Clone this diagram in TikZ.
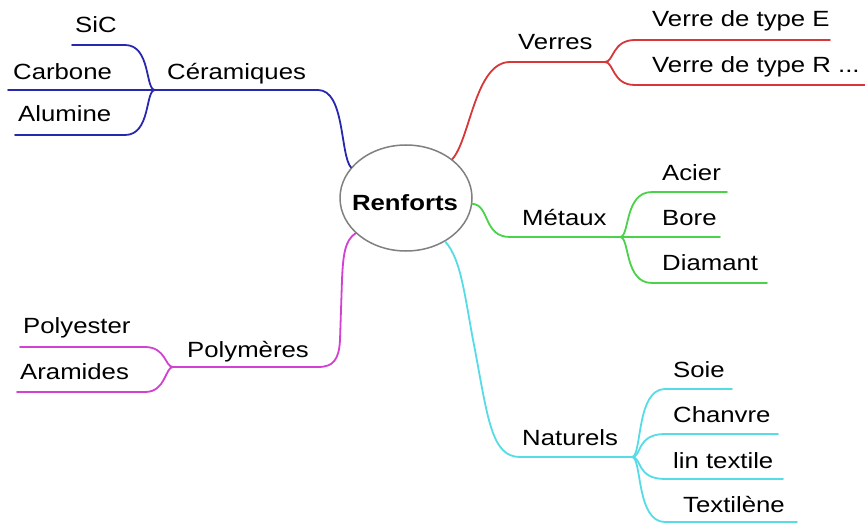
\documentclass[tikz,border=0pt]{standalone}
\usepackage{fontspec}
\setmainfont[FakeStretch=1.17]{Liberation Sans}
\usetikzlibrary{shapes.geometric}
\definecolor{cblue}{RGB}{40,40,175}
\definecolor{cred}{RGB}{215,55,55}
\definecolor{cgreen}{RGB}{75,210,75}
\definecolor{cmag}{RGB}{210,65,210}
\definecolor{ccyan}{RGB}{85,220,230}
\begin{document}
\begin{tikzpicture}[x=1pt,y=-1pt,
  lbl/.style={anchor=base west,inner sep=0pt,font=\fontsize{22}{26}\selectfont},
  br/.style={line width=1.8pt,line cap=round}]
\useasboundingbox[fill=white] (0,0) rectangle (865,524);
% centre
\node[ellipse,draw=gray,line width=1.5pt,minimum width=132pt,minimum height=106pt,inner sep=0pt,font=\fontsize{22}{26}\selectfont\bfseries] (R) at (406,198) {};
\node[anchor=base,inner sep=0pt,font=\fontsize{22}{26}\selectfont\bfseries] (Rt) at (405,210) {Renforts};
% labels
\node[lbl] (cer) at (167,80) {Céramiques};
\node[lbl] (sic) at (75,33) {SiC};
\node[lbl] (carb) at (13,80) {Carbone};
\node[lbl] (alu) at (18,122) {Alumine};
\node[lbl] (ver) at (518,50) {Verres};
\node[lbl] (vE) at (652,27) {Verre de type E};
\node[lbl] (vR) at (652,73) {Verre de type R ...};
\node[lbl] (met) at (522,225) {Métaux};
\node[lbl] (aci) at (662,180) {Acier};
\node[lbl] (bor) at (662,225) {Bore};
\node[lbl] (dia) at (662,270) {Diamant};
\node[lbl] (pol) at (187,357) {Polymères};
\node[lbl] (pes) at (23,333) {Polyester};
\node[lbl] (ara) at (20,379) {Aramides};
\node[lbl] (nat) at (522,445) {Naturels};
\node[lbl] (soi) at (673,377) {Soie};
\node[lbl] (cha) at (673,422) {Chanvre};
\node[lbl] (lin) at (673,468) {lin textile};
\node[lbl] (tex) at (683,512) {Textilène};
% junctions and line ends
\coordinate (J1) at (155,90);
\coordinate (J2) at (605,62);
\coordinate (J3) at (620,237);
\coordinate (J4) at (173,367);
\coordinate (J5) at (632,457);
\coordinate (eSiC) at (72,45);
\coordinate (eCarb) at (8,90);
\coordinate (eAlu) at (15,135);
\coordinate (eVE) at (830,40);
\coordinate (eVR) at (865,85);
\coordinate (eAci) at (727,192);
\coordinate (eBor) at (720,237);
\coordinate (eDia) at (767,283);
\coordinate (ePes) at (20,347);
\coordinate (eAra) at (17,392);
\coordinate (eSoi) at (732,389);
\coordinate (eCha) at (778,434);
\coordinate (eLin) at (783,479);
\coordinate (eTex) at (797,522);
% blue
\draw[br,cblue] (R.151) .. controls (340,155) and (345,90) .. (318,90) -- (J1);
\draw[br,cblue] (J1) .. controls (145,90) and (151,45) .. (125,45) -- (eSiC);
\draw[br,cblue] (J1) -- (eCarb);
\draw[br,cblue] (J1) .. controls (145,90) and (151,135) .. (125,135) -- (eAlu);
% red
\draw[br,cred] (R.40) .. controls (470,140) and (475,62) .. (510,62) -- (J2);
\draw[br,cred] (J2) .. controls (614,62) and (612,40) .. (635,40) -- (eVE);
\draw[br,cred] (J2) .. controls (614,62) and (612,85) .. (635,85) -- (eVR);
% green
\draw[br,cgreen] (R.-5) .. controls (490,205) and (483,237) .. (510,237) -- (J3);
\draw[br,cgreen] (J3) .. controls (630,237) and (624,192) .. (652,192) -- (eAci);
\draw[br,cgreen] (J3) -- (eBor);
\draw[br,cgreen] (J3) .. controls (630,237) and (624,283) .. (652,283) -- (eDia);
% magenta
\draw[br,cmag] (R.-145) .. controls (345,240) and (343,255) .. (342,280) -- (340,340) .. controls (339,360) and (333,367) .. (318,367) -- (J4);
\draw[br,cmag] (J4) .. controls (165,367) and (166,347) .. (145,347) -- (ePes);
\draw[br,cmag] (J4) .. controls (165,367) and (166,392) .. (145,392) -- (eAra);
% cyan
\draw[br,ccyan] (R.-48) .. controls (462,260) and (465,300) .. (475,350) .. controls (488,420) and (492,457) .. (520,457) -- (J5);
\draw[br,ccyan] (J5) .. controls (642,457) and (636,389) .. (665,389) -- (eSoi);
\draw[br,ccyan] (J5) .. controls (642,457) and (636,434) .. (665,434) -- (eCha);
\draw[br,ccyan] (J5) .. controls (642,457) and (636,479) .. (665,479) -- (eLin);
\draw[br,ccyan] (J5) .. controls (642,457) and (636,522) .. (665,522) -- (eTex);
\end{tikzpicture}
\end{document}
